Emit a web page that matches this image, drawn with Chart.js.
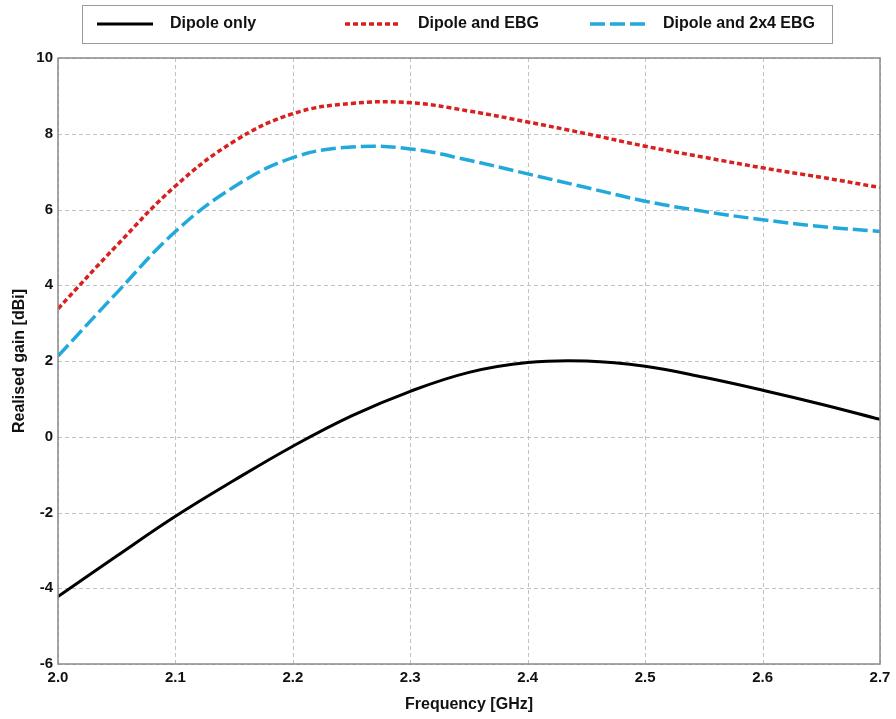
<!DOCTYPE html>
<html>
<head>
<meta charset="utf-8">
<script src="https://cdn.jsdelivr.net/npm/chart.js@4"></script>
<style>
  html, body { margin: 0; padding: 0; background: #fff; }
  #wrap { width: 896px; height: 719px; }
</style>
</head>
<body>
<div id="wrap"><canvas id="grafico" width="896" height="719"></canvas></div>
<script>
const frequencias = [2.0, 2.05, 2.1, 2.15, 2.2, 2.25, 2.3, 2.35, 2.4, 2.45, 2.5, 2.55, 2.6, 2.65, 2.7];
const dipoleOnly = [-4.22, -3.15, -2.1, -1.15, -0.25, 0.55, 1.2, 1.7, 1.96, 2.0, 1.86, 1.57, 1.23, 0.86, 0.46];
const dipoleEbg = [3.38, 5.05, 6.62, 7.8, 8.53, 8.8, 8.82, 8.6, 8.31, 8.0, 7.67, 7.38, 7.1, 6.85, 6.58];
const dipole2x4Ebg = [2.13, 3.8, 5.42, 6.6, 7.37, 7.65, 7.6, 7.3, 6.94, 6.58, 6.22, 5.95, 5.73, 5.55, 5.42];
const seriesLabels = ["Dipole only", "Dipole and EBG", "Dipole and 2x4 EBG"];
const xTicks = [2.0, 2.1, 2.2, 2.3, 2.4, 2.5, 2.6, 2.7];
const yTicks = [-6, -4, -2, 0, 2, 4, 6, 8, 10];

const fonte = "'Liberation Sans', Arial, sans-serif";
const pontos = ys => frequencias.map((f, i) => ({ x: f, y: ys[i] }));

// grade tracejada desenhada a partir das escalas
const gradePlugin = {
    id: "grade",
    beforeDatasetsDraw(chart) {
        const { ctx, chartArea: a, scales } = chart;
        ctx.save();
        ctx.strokeStyle = "#c2c2c2";
        ctx.lineWidth = 1;
        ctx.setLineDash([4, 3]);
        xTicks.forEach(v => {
            const x = Math.round(scales.x.getPixelForValue(v)) + 0.5;
            ctx.beginPath();
            ctx.moveTo(x, a.top);
            ctx.lineTo(x, a.bottom);
            ctx.stroke();
        });
        yTicks.forEach(v => {
            const y = Math.round(scales.y.getPixelForValue(v)) + 0.5;
            ctx.beginPath();
            ctx.moveTo(a.left, y);
            ctx.lineTo(a.right, y);
            ctx.stroke();
        });
        ctx.restore();
    }
};

// moldura do gráfico + legenda desenhada à mão
const molduraPlugin = {
    id: "moldura",
    afterDraw(chart) {
        const { ctx, chartArea: a } = chart;
        ctx.save();
        ctx.strokeStyle = "#8a8a8a";
        ctx.lineWidth = 1.5;
        ctx.strokeRect(a.left, a.top, a.right - a.left, a.bottom - a.top);

        ctx.strokeStyle = "#9a9a9a";
        ctx.lineWidth = 1;
        ctx.strokeRect(82.5, 5.5, 750, 38);

        const posicoes = [97, 345, 590];
        chart.data.datasets.forEach((ds, i) => {
            const x0 = posicoes[i];
            ctx.beginPath();
            ctx.strokeStyle = ds.borderColor;
            ctx.lineWidth = ds.borderWidth;
            ctx.setLineDash(ds.borderDash || []);
            ctx.moveTo(x0, 24);
            ctx.lineTo(x0 + 56, 24);
            ctx.stroke();
            ctx.setLineDash([]);
            ctx.fillStyle = "#111";
            ctx.font = "bold 16px " + fonte;
            ctx.textBaseline = "middle";
            ctx.textAlign = "left";
            ctx.fillText(ds.label, x0 + 73, 24);
        });
        ctx.restore();
    }
};

const ctx = document.getElementById("grafico").getContext("2d");
new Chart(ctx, {
    type: "line",
    data: {
        datasets: [
            {
                label: seriesLabels[0],
                data: pontos(dipoleOnly),
                borderColor: "#000000",
                borderWidth: 3,
                pointRadius: 0,
                tension: 0.4
            },
            {
                label: seriesLabels[1],
                data: pontos(dipoleEbg),
                borderColor: "#d8201f",
                borderWidth: 3.5,
                borderDash: [5, 3],
                pointRadius: 0,
                tension: 0.4
            },
            {
                label: seriesLabels[2],
                data: pontos(dipole2x4Ebg),
                borderColor: "#22a9dc",
                borderWidth: 3.5,
                borderDash: [15, 5],
                pointRadius: 0,
                tension: 0.4
            }
        ]
    },
    options: {
        responsive: false,
        animation: false,
        layout: { padding: { top: 58, right: 16, left: 0, bottom: 0 } },
        plugins: {
            legend: { display: false },
            tooltip: { enabled: false }
        },
        scales: {
            x: {
                type: "linear",
                min: 2.0,
                max: 2.7,
                afterBuildTicks: s => { s.ticks = xTicks.map(v => ({ value: v })); },
                afterFit: s => { s.height = 55; },
                ticks: {
                    color: "#111",
                    font: { family: fonte, size: 15, weight: "bold" },
                    padding: 5,
                    maxRotation: 0,
                    callback: v => Number(v).toFixed(1)
                },
                grid: { display: false, drawTicks: false },
                border: { display: false },
                title: {
                    display: true,
                    text: "Frequency [GHz]",
                    color: "#111",
                    font: { family: fonte, size: 16, weight: "bold" },
                    padding: { top: 4, bottom: 5 }
                }
            },
            y: {
                min: -6,
                max: 10,
                afterBuildTicks: s => { s.ticks = yTicks.map(v => ({ value: v })); },
                afterFit: s => { s.width = 58; },
                ticks: {
                    color: "#111",
                    font: { family: fonte, size: 15, weight: "bold" },
                    padding: 5
                },
                grid: { display: false, drawTicks: false },
                border: { display: false },
                title: {
                    display: true,
                    text: "Realised gain [dBi]",
                    color: "#111",
                    font: { family: fonte, size: 16, weight: "bold" },
                    padding: { top: 10, bottom: 2 }
                }
            }
        }
    },
    plugins: [gradePlugin, molduraPlugin]
});
</script>
</body>
</html>
